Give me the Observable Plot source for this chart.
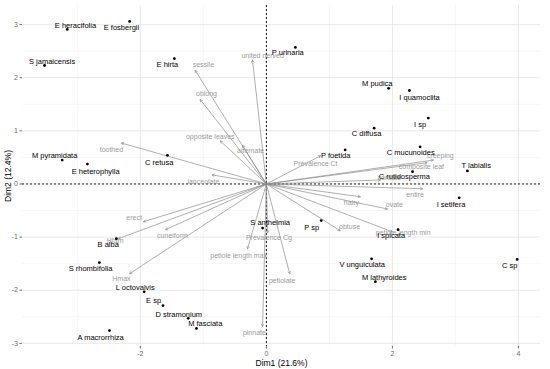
<!DOCTYPE html>
<html><head><meta charset="utf-8">
<script src="https://cdn.jsdelivr.net/npm/d3@7"></script>
<script src="https://cdn.jsdelivr.net/npm/@observablehq/plot@0.6"></script>
<style>body{margin:0;background:#fff;font-family:"Liberation Sans",Arial,sans-serif}</style>
</head><body><div id="chart"></div>
<script>
// Individuals (species) — PCA coordinates and repelled label positions
const species = ["E heracifolia","E fosbergii","S jamaicensis","E hirta","M pyramidata","E heterophylla","C retusa","P urinaria","M pudica","I quamoclita","I sp","C diffusa","P foetida","C mucunoides","T labialis","C rutidosperma","I setifera","P sp","I spicata","V unguiculata","M lathyroides","C sp","S anthelmia","B alba","S rhombifolia","L octovalvis","E sp","D stramonium","M fasciata","A macrorrhiza"];
const dim1 = [-3.16,-2.17,-3.52,-1.46,-3.24,-2.84,-1.57,0.46,1.94,2.27,2.57,1.71,1.25,2.44,3.19,2.32,3.06,0.87,2.09,1.67,1.73,3.98,-0.06,-2.38,-2.65,-1.94,-1.64,-1.24,-1.11,-2.49];
const dim2 = [2.91,3.06,2.23,2.36,0.45,0.375,0.54,2.57,1.80,1.76,1.24,1.05,0.64,0.70,0.245,0.23,-0.26,-0.69,-0.86,-1.41,-1.84,-1.42,-0.83,-1.03,-1.48,-2.03,-2.29,-2.53,-2.72,-2.76];
const labDim1 = [-3.03,-2.30,-3.40,-1.57,-3.36,-2.71,-1.70,0.34,1.76,2.43,2.44,1.59,1.10,2.29,3.33,2.19,2.93,0.72,1.98,1.52,1.87,3.86,0.06,-2.51,-2.79,-2.08,-1.79,-1.39,-0.97,-2.63];
const labDim2 = [2.98,2.95,2.31,2.25,0.53,0.24,0.41,2.48,1.89,1.63,1.11,0.94,0.53,0.60,0.34,0.13,-0.38,-0.83,-0.98,-1.52,-1.76,-1.54,-0.73,-1.14,-1.59,-1.95,-2.20,-2.46,-2.63,-2.89];

// Variables — arrow tips and label positions
const variables = ["united nerved","sessile","oblong","opposite leaves","alternate","toothed","lanceolate","Prevalence Ct","creeping","composite leaf","cordate","entire","hairy","ovate","obtuse","petiole length min","petiolate","pinnate","petiole length max","Prevalence Cg","erect","Hfam","cuneiform","Hmax"];
const varDim1 = [-0.22,-1.13,-1.05,-0.73,-0.38,-2.30,-0.86,0.86,2.65,2.55,1.81,2.48,1.49,1.92,1.17,2.00,0.37,-0.06,-0.30,0.02,-1.95,-2.35,-1.60,-2.17];
const varDim2 = [2.33,2.14,1.59,0.81,0.73,0.77,0.17,0.53,0.45,0.40,0.075,-0.09,-0.24,-0.47,-0.88,-0.90,-1.69,-2.68,-1.22,-0.92,-0.71,-1.03,-0.86,-1.69];
const varLab1 = [-0.06,-1.00,-0.95,-0.89,-0.25,-2.46,-1.00,0.78,2.76,2.46,1.95,2.36,1.35,2.03,1.32,2.17,0.25,-0.19,-0.44,0.04,-2.10,-2.40,-1.49,-2.30];
const varLab2 = [2.42,2.25,1.69,0.88,0.62,0.64,0.04,0.39,0.53,0.32,0.12,-0.21,-0.36,-0.39,-0.81,-0.92,-1.82,-2.81,-1.35,-1.01,-0.64,-1.07,-0.98,-1.78];

// Axes ticks
const xTicks = [-2,0,2,4];
const xMinor = [-3,-1,1,3];
const yTicks = [-3,-2,-1,0,1,2,3];
const yMinor = [-2.5,-1.5,-0.5,0.5,1.5,2.5];
const xTitle = "Dim1 (21.6%)";
const yTitle = "Dim2 (12.4%)";

const ind = species.map((s,i)=>({name:s,x:dim1[i],y:dim2[i],lx:labDim1[i],ly:labDim2[i]}));
const vars = variables.map((s,i)=>({name:s,x:varDim1[i],y:varDim2[i],lx:varLab1[i],ly:varLab2[i]}));
const fmt = d => String(d);

const chart = Plot.plot({
  width: 550, height: 369,
  marginLeft: 22, marginRight: 10, marginTop: 5, marginBottom: 23,
  style: {fontFamily: "Liberation Sans, Arial, sans-serif", background: "#fff"},
  x: {domain: [-3.87, 4.35], axis: null},
  y: {domain: [-3.06, 3.36], axis: null},
  marks: [
    Plot.gridX(xMinor, {stroke: "#ededed", strokeOpacity: 1, strokeWidth: 0.5}),
    Plot.gridY(yMinor, {stroke: "#ededed", strokeOpacity: 1, strokeWidth: 0.5}),
    Plot.gridX(xTicks, {stroke: "#e6e6e6", strokeOpacity: 1, strokeWidth: 0.9}),
    Plot.gridY(yTicks, {stroke: "#e6e6e6", strokeOpacity: 1, strokeWidth: 0.9}),
    Plot.axisX({ticks: xTicks, tickFormat: fmt, tickSize: 2.5, tickPadding: 2, fontSize: 7, stroke: "#6b6b6b", color: "#6b6b6b",
      label: xTitle, labelAnchor: "center", labelArrow: "none", labelOffset: 19}),
    Plot.axisY({ticks: yTicks, tickFormat: fmt, tickSize: 2.5, tickPadding: 2, fontSize: 7, stroke: "#6b6b6b", color: "#6b6b6b",
      label: yTitle, labelAnchor: "center", labelArrow: "none", labelOffset: 18}),
    Plot.ruleX([0], {stroke: "#000", strokeDasharray: "2,2", strokeWidth: 0.9}),
    Plot.ruleY([0], {stroke: "#000", strokeDasharray: "2,2", strokeWidth: 0.9}),
    Plot.arrow(vars, {x1: d => 0, y1: d => 0, x2: "x", y2: "y", stroke: "#8c8c8c", strokeWidth: 0.7, headLength: 5}),
    Plot.text(vars, {x: "lx", y: "ly", text: "name", fill: "#9a9a9a", fontSize: 7}),
    Plot.dot(ind, {x: "x", y: "y", r: 1.4, fill: "#000", stroke: "none"}),
    Plot.text(ind, {x: "lx", y: "ly", text: "name", fill: "#000", fontSize: 7.5})
  ]
});
chart.querySelectorAll("[aria-label='x-axis label'] text, [aria-label='y-axis label'] text").forEach(t => {
  t.setAttribute("font-size", "8.5"); t.setAttribute("fill", "#000");
});
document.getElementById("chart").appendChild(chart);
</script>
</body></html>
